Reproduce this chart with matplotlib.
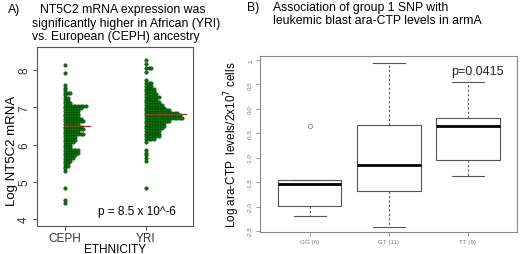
import numpy as np
import matplotlib.pyplot as plt

plt.rcParams['font.family'] = ['Liberation Sans', 'DejaVu Sans']

# ---- Panel A: dot histogram of NT5C2 expression (row level, dots in row) ----
ceph_levels = [8.14, 7.93, 7.60, 7.53, 7.46, 7.39, 7.32, 7.25, 7.18, 7.11,
               7.04, 6.97, 6.90, 6.83, 6.76, 6.69, 6.62, 6.55, 6.48, 6.41,
               6.34, 6.27, 6.20, 6.13, 6.06, 5.99, 5.92, 5.85, 5.78, 5.71,
               5.64, 5.57, 5.50, 5.43, 5.36, 5.29, 4.83, 4.50, 4.42]
ceph_counts = [1, 1, 1, 1, 1, 3, 1, 2, 2, 3,
               9, 7, 6, 6, 6, 7, 8, 6, 7, 8,
               6, 8, 5, 5, 4, 3, 3, 6, 6, 5,
               4, 3, 2, 2, 1, 1, 1, 1, 1]
yri_levels = [8.26, 8.15, 8.05, 7.95, 7.72, 7.65, 7.58, 7.50, 7.43, 7.36,
              7.28, 7.20, 7.13, 7.06, 6.99, 6.92, 6.85, 6.78, 6.71, 6.64,
              6.57, 6.50, 6.43, 6.36, 6.29, 6.22, 6.15, 6.08, 5.85, 5.78,
              5.71, 5.64, 5.57, 4.84]
yri_counts = [1, 1, 3, 1, 1, 3, 3, 4, 4, 5,
              6, 5, 6, 7, 8, 10, 13, 14, 15, 10,
              8, 8, 7, 6, 6, 6, 4, 1, 1, 1,
              1, 1, 1, 1]
medians_a = [6.49, 6.83]
groups_a = ['CEPH', 'YRI']

# ---- Panel B: boxplot stats of ara-CTP levels by genotype ----
genotypes = ['GG (6)', 'GT (11)', 'TT (9)']
whis_lo = [-2.19, -2.41, -1.37]
q1 = [-1.98, -1.68, -1.05]
med = [-1.54, -1.15, -0.36]
q3 = [-1.45, -0.33, -0.19]
whis_hi = [-1.45, 0.94, 0.55]
outliers = [[-0.35], [], []]

fig = plt.figure(figsize=(5.2, 2.55), dpi=100)
fs_title = 8.8

# Panel A
axA = fig.add_axes([37 / 520, 1 - 227 / 255, 156 / 520, 179 / 255])
dx = 0.032
for gi, (lev, cnt) in enumerate([(ceph_levels, ceph_counts), (yri_levels, yri_counts)]):
    xs, ys = [], []
    for v, c in zip(lev, cnt):
        for k in range(c):
            xs.append(gi + 1 + k * dx)
            ys.append(v)
    axA.scatter(xs, ys, s=6, color='#0a7a0a', edgecolors='#004000',
                linewidths=0.4, zorder=2)
    axA.plot([gi + 1, gi + 1 + (max(cnt) + 0.5) * dx], [medians_a[gi]] * 2,
             color='#a8341c', lw=1.0, zorder=3)
axA.set_xlim(0.654, 2.58)
axA.set_ylim(3.81, 8.62)
axA.set_xticks([1, 2])
axA.set_xticklabels(groups_a, fontsize=8.5)
axA.set_yticks([4, 5, 6, 7, 8])
axA.set_yticklabels(['4', '5', '6', '7', '8'], fontsize=8.5, rotation=90, va='center')
axA.tick_params(length=3, width=0.6, pad=2, colors='#333333')
axA.tick_params(axis='x', pad=1)
for sp in axA.spines.values():
    sp.set_color('#555555')
    sp.set_linewidth(0.8)
fig.text(12 / 520, 1 - 151 / 255, 'Log NT5C2 mRNA', fontsize=9.5,
         rotation=90, ha='center', va='center')
fig.text(115 / 520, 1 - 250.5 / 255, 'ETHNICITY', fontsize=8.5,
         ha='center', va='center')
axA.text(1.89, 4.22, 'p = 8.5 x 10^-6', fontsize=8.5, ha='center', va='center')

fig.text(8 / 520, 1 - 10 / 255, 'A)', fontsize=fs_title, va='center')
fig.text(40 / 520, 1 - 10 / 255, 'NT5C2 mRNA expression was', fontsize=fs_title, va='center')
fig.text(32 / 520, 1 - 23.5 / 255, 'significantly higher in African (YRI)',
         fontsize=fs_title, va='center')
fig.text(32 / 520, 1 - 37 / 255, 'vs. European (CEPH) ancestry', fontsize=fs_title, va='center')

# Panel B
axB = fig.add_axes([260 / 520, 1 - 233 / 255, 257 / 520, 176 / 255])
stats = []
for i in range(3):
    stats.append(dict(med=med[i], q1=q1[i], q3=q3[i], whislo=whis_lo[i],
                      whishi=whis_hi[i], fliers=outliers[i]))
axB.bxp(stats, positions=[1, 2, 3], widths=0.8, showfliers=True,
        boxprops=dict(color='#555555', lw=0.8),
        medianprops=dict(color='black', lw=2.0),
        whiskerprops=dict(color='#555555', lw=0.8, ls=(0, (2, 2))),
        capprops=dict(color='#555555', lw=0.8),
        capwidths=0.4,
        flierprops=dict(marker='o', markersize=3, markerfacecolor='none',
                        markeredgecolor='#666666', markeredgewidth=0.5))
axB.set_xlim(0.37, 3.62)
axB.set_ylim(-2.52, 1.08)
axB.set_xticks([1, 2, 3])
axB.set_xticklabels(genotypes, fontsize=4.5, color='#444444')
axB.set_yticks([-2.5, -2.0, -1.5, -1.0, -0.5, 0.0, 0.5, 1.0])
axB.set_yticklabels(['-2.5', '-2.0', '-1.5', '-1.0', '-0.5', '0.0', '0.5', '1'],
                    fontsize=4.5, rotation=90, va='center', color='#555555')
axB.tick_params(length=3, width=0.5, pad=2, colors='#777777')
for sp in axB.spines.values():
    sp.set_color('#888888')
    sp.set_linewidth(0.8)
axB.set_ylabel('Log ara-CTP  levels/2x10$^7$ cells', fontsize=8.5, labelpad=4)
axB.text(3.12, 0.77, 'p=0.0415', fontsize=9, ha='center', va='center', color='#222222')

fig.text(247 / 520, 1 - 8 / 255, 'B)', fontsize=fs_title, va='center')
fig.text(273 / 520, 1 - 8 / 255, 'Association of group 1 SNP with', fontsize=fs_title, va='center')
fig.text(273 / 520, 1 - 21 / 255, 'leukemic blast ara-CTP levels in armA',
         fontsize=fs_title, va='center')

fig.savefig('out.png', dpi=100)
